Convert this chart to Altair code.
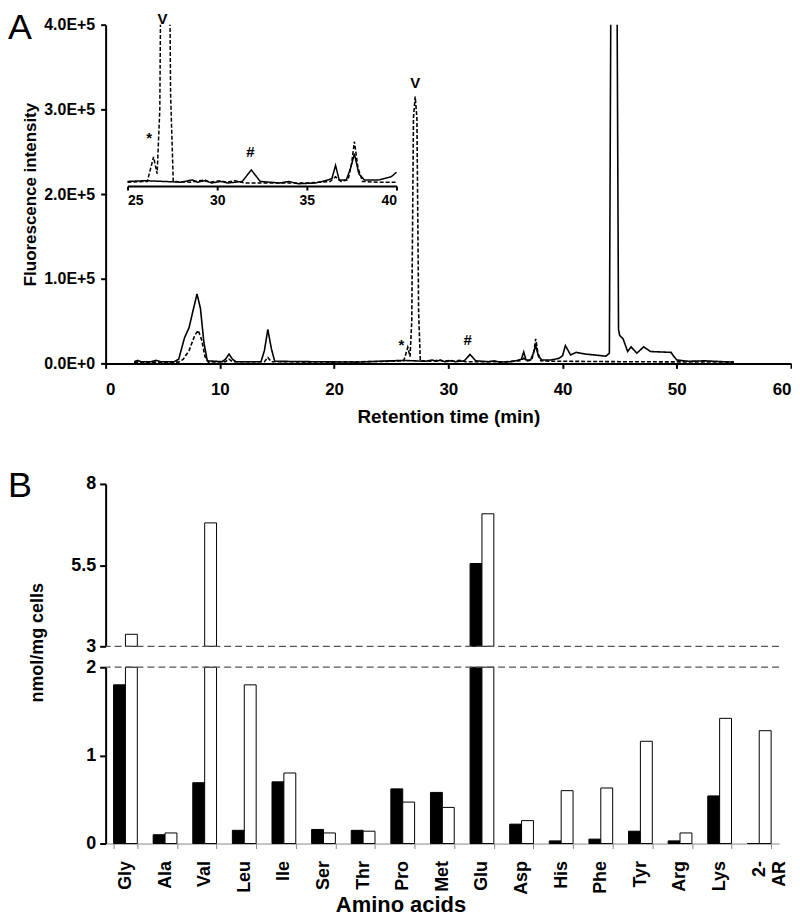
import altair as alt
import pandas as pd

FONT = "Liberation Sans"

# ---------------- Panel A : chromatogram ----------------
solid_t = [2.5, 2.8, 3.1, 4.0, 4.4, 4.8, 6.0, 6.4, 6.9, 7.3, 7.7, 8.0, 8.3, 8.6, 8.9,
           10.2, 10.5, 10.8, 11.1, 11.4, 13.6, 13.9, 14.2, 14.5, 14.8, 18.0, 22.0,
           25.0, 26.0, 27.0, 28.0, 28.6, 28.9, 29.3, 29.7, 30.2, 30.6, 31.0, 31.4, 31.9, 32.4,
           33.5, 34.0, 34.5, 35.5, 36.2, 36.4, 36.6, 36.8, 37.2, 37.45, 37.65, 37.9, 38.2,
           39.0, 39.7, 40.0, 40.25, 40.7, 41.2, 42.0, 43.1, 43.8, 44.1, 44.25, 44.5,
           44.75, 44.9, 45.0, 45.3, 45.7, 46.0, 46.5, 47.1, 47.7, 49.5, 49.75, 50.0,
           51.0, 52.5, 54.0, 55.0]
solid_v = [2000, 3500, 2000, 2000, 3500, 2000, 2000, 5000, 30000, 42000, 65000, 82000, 65000, 25000, 3000,
           2000, 5000, 11000, 5000, 2000, 2000, 15000, 40000, 18000, 2500, 2000, 1500,
           3000, 3500, 3000, 2500, 4000, 2500, 3500, 2000, 3000, 2000, 2500, 3000, 10500, 3000,
           2000, 3000, 1500, 2000, 4000, 5000, 13500, 4000, 4000, 12000, 21000, 8000, 4000,
           4000, 6000, 9000, 21000, 10000, 13000, 11000, 9500, 8500, 12000, 500000, 700000,
           500000, 40000, 33000, 29000, 14000, 19500, 12000, 19500, 14000, 13000, 8000, 4000,
           2500, 3000, 2000, 1500]

dashed_t = [2.5, 6.4, 6.8, 7.3, 7.8, 8.1, 8.4, 8.7, 9.0, 10.5, 10.8, 11.1, 13.9, 14.2, 14.5,
            20.0, 25.0, 26.1, 26.3, 26.45, 26.65, 26.8, 26.95, 27.1, 27.25, 27.4, 27.55,
            28.5, 29.3, 29.6, 30.2, 30.5, 31.0, 31.5, 33.0, 35.0, 36.3, 36.6, 36.9, 37.3,
            37.5, 37.65, 37.85, 38.1, 39.0, 40.0, 45.0, 55.0]
dashed_v = [1500, 1500, 5000, 15000, 33000, 39000, 28000, 8000, 1500, 2000, 5000, 2000, 2000, 7000, 2000,
            1500, 2500, 3000, 12000, 19000, 8000, 50000, 290000, 315000, 290000, 60000, 3000,
            2500, 4000, 2500, 3500, 2500, 3500, 2000, 2000, 2000, 3000, 6000, 3000, 4000,
            15000, 29000, 12000, 3000, 2500, 2500, 2000, 1500]

ann_main_label = ["V", "*", "#"]
ann_main_t = [27.1, 25.9, 31.7]
ann_main_v = [322000, 12000, 18000]

ann_inset_label = ["V", "*", "#"]
ann_inset_t = [26.95, 26.2, 31.85]
ann_inset_v = [103500, 26000, 17000]

# ---------------- Panel B : amino acids ----------------
amino = ["Gly", "Ala", "Val", "Leu", "Ile", "Ser", "Thr", "Pro", "Met", "Glu",
         "Asp", "His", "Phe", "Tyr", "Arg", "Lys", "2-AR"]
black_vals = [1.8, 0.1, 0.69, 0.15, 0.70, 0.16, 0.15, 0.62, 0.58, 5.55,
              0.22, 0.03, 0.05, 0.14, 0.03, 0.54, 0.0]
white_vals = [3.37, 0.12, 6.8, 1.8, 0.80, 0.12, 0.14, 0.47, 0.41, 7.08,
              0.26, 0.60, 0.63, 1.16, 0.12, 1.42, 1.28]

# ---------------- build tables ----------------
df_a = pd.concat([
    pd.DataFrame({"t": solid_t, "v": solid_v, "trace": "solid", "ord": range(len(solid_t))}),
    pd.DataFrame({"t": dashed_t, "v": dashed_v, "trace": "dashed", "ord": range(len(dashed_t))}),
])
df_ann_main = pd.DataFrame({"t": ann_main_t, "v": ann_main_v, "label": ann_main_label})
df_ann_inset = pd.DataFrame({"t": ann_inset_t, "v": ann_inset_v, "label": ann_inset_label})

df_b = pd.concat([
    pd.DataFrame({"amino": amino, "series": "a", "value": black_vals}),
    pd.DataFrame({"amino": amino, "series": "b", "value": white_vals}),
])

dash = alt.StrokeDash("trace:N", scale=alt.Scale(domain=["solid", "dashed"], range=[[1, 0], [4, 2]]), legend=None)

bold = dict(labelFont=FONT, labelFontWeight="bold", titleFont=FONT, titleFontWeight="bold",
            labelColor="black", titleColor="black", grid=False)

main_lines = alt.Chart(df_a).mark_line(clip=True, color="black", strokeWidth=1.6).encode(
    x=alt.X("t:Q", scale=alt.Scale(domain=[0, 60], nice=False),
            axis=alt.Axis(values=[0, 10, 20, 30, 40, 50, 60], title="Retention time (min)",
                          domainColor="black", domainWidth=2, tickColor="black", tickWidth=2, tickSize=5,
                          labelFontSize=17, labelPadding=13, titleFontSize=19, titlePadding=10, **bold)),
    y=alt.Y("v:Q", scale=alt.Scale(domain=[0, 400000], nice=False),
            axis=alt.Axis(values=[0, 100000, 200000, 300000, 400000],
                          labelExpr="datum.value == 0 ? '0.0E+0' : format(datum.value / 100000, '.1f') + 'E+5'",
                          title="Fluorescence intensity",
                          domainColor="black", domainWidth=2, tickColor="black", tickWidth=2, tickSize=5,
                          labelFontSize=16, labelPadding=6, titleFontSize=17, titlePadding=4, **bold)),
    strokeDash=dash,
    order="ord:Q",
)
main_text = alt.Chart(df_ann_main).mark_text(font=FONT, fontWeight="bold", fontSize=15, baseline="bottom").encode(
    x="t:Q", y="v:Q", text="label:N")
letter_a = alt.Chart(pd.DataFrame({"l": ["A"]})).mark_text(
    font=FONT, fontSize=36, align="left", baseline="top").encode(
    x=alt.value(-98), y=alt.value(-14), text="l:N")

inset_lines = alt.Chart(df_a).transform_filter("datum.t >= 25 && datum.t <= 40").mark_line(
    clip=True, color="black", strokeWidth=1.5).encode(
    x=alt.X("t:Q", scale=alt.Scale(domain=[25, 40], range=[22, 292], nice=False),
            axis=alt.Axis(orient="bottom", offset=-178, values=[25, 30, 35, 40], title=None,
                          domainColor="black", domainWidth=2, tickColor="black", tickWidth=2, tickSize=4,
                          labelFontSize=14, labelPadding=4, **bold)),
    y=alt.Y("v:Q", scale=alt.Scale(domain=[0, 105000], range=[162, 0], nice=False), axis=None),
    strokeDash=dash,
    order="ord:Q",
)
inset_text = alt.Chart(df_ann_inset).mark_text(font=FONT, fontWeight="bold", fontSize=15, baseline="bottom").encode(
    x="t:Q", y="v:Q", text="label:N")

panel_a = alt.layer(
    alt.layer(main_lines, main_text, letter_a),
    alt.layer(inset_lines, inset_text),
).resolve_scale(x="independent", y="independent").properties(width=688, height=340)

# Panel B
x_enc = alt.X("amino:N", sort=amino, scale=alt.Scale(paddingInner=0.4, paddingOuter=0.2),
              axis=alt.Axis(title="Amino acids", labelAngle=-90, tickBand="extent",
                            labelExpr="datum.value == '2-AR' ? ['2-', 'AR'] : datum.value",
                            domainColor="#888888", domainWidth=1, tickColor="#888888", tickSize=5,
                            labelFontSize=18, labelPadding=12, titleFontSize=22, titlePadding=0,
                            titleX=296, **bold))
xo_enc = alt.XOffset("series:N", sort=["a", "b"])
fill_enc = alt.Fill("series:N", scale=alt.Scale(domain=["a", "b"], range=["black", "white"]), legend=None)

ytop_scale = alt.Scale(domain=[3, 8], range=[163, 0], nice=False, zero=False)
ybot_scale = alt.Scale(domain=[0, 2], range=[361, 184], nice=False, clamp=True)

b_top = alt.Chart(df_b).transform_filter("datum.value > 3").mark_bar(stroke="black", strokeWidth=1).encode(
    x=x_enc, xOffset=xo_enc,
    y=alt.Y("value:Q", scale=ytop_scale,
            axis=alt.Axis(orient="left", values=[3, 5.5, 8], labelExpr="'' + datum.value", title=None,
                          domainColor="black", domainWidth=2, tickColor="black", tickWidth=2, tickSize=6,
                          labelFontSize=18, labelPadding=4, **bold)),
    y2=alt.datum(3),
    fill=fill_enc,
)
rule3 = alt.Chart(pd.DataFrame({"r": [3]})).mark_rule(color="#555555", strokeDash=[7, 4], strokeWidth=1.3).encode(
    y=alt.Y("r:Q", scale=ytop_scale, axis=None))

b_bot = alt.Chart(df_b).mark_bar(stroke="black", strokeWidth=1).encode(
    x=x_enc, xOffset=xo_enc,
    y=alt.Y("value:Q", scale=ybot_scale,
            axis=alt.Axis(orient="left", values=[0, 1, 2], labelExpr="'' + datum.value", title="nmol/mg cells",
                          titleX=-59, titleY=159, titleFontSize=18,
                          domainColor="black", domainWidth=2, tickColor="black", tickWidth=2, tickSize=6,
                          labelFontSize=18, labelPadding=4, **bold)),
    fill=fill_enc,
)
rule2 = alt.Chart(pd.DataFrame({"r": [2]})).mark_rule(color="#555555", strokeDash=[7, 4], strokeWidth=1.3).encode(
    y=alt.Y("r:Q", scale=ybot_scale, axis=None))

letter_b = alt.Chart(pd.DataFrame({"l": ["B"]})).mark_text(
    font=FONT, fontSize=36, align="left", baseline="top").encode(
    x=alt.value(-98), y=alt.value(-15), text="l:N")

panel_b = alt.layer(b_top, rule3, b_bot, rule2, letter_b).resolve_scale(y="independent").properties(
    width=676, height=361)

chart = alt.vconcat(panel_a, panel_b, spacing=121, bounds="flush").configure_view(stroke=None).properties(padding=0)

chart.save("out.html", embed_options={"renderer": "svg", "actions": False})
